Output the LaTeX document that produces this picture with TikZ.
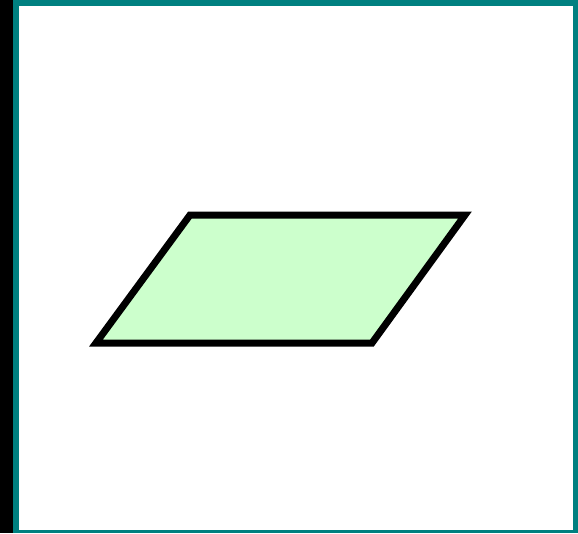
\documentclass[tikz,border=0pt]{standalone}
\usepackage{tikz}

\definecolor{frameteal}{RGB}{0,128,128}
\definecolor{shapegreen}{RGB}{204,255,204}

\begin{document}
\begin{tikzpicture}[x=1pt, y=-1pt, line width=7pt, line join=miter]
  \useasboundingbox (0,0) rectangle (578,533);
  % frame
  \fill[black] (0,0) rectangle (13,533);
  \fill[frameteal] (13,0) rectangle (578,533);
  \fill[white] (19,6) rectangle (573,530);

  % parallelogram
  \filldraw[fill=shapegreen, draw=black]
   (96,343) -- (190,215) -- (465,215) -- (372,343) -- cycle;
\end{tikzpicture}
\end{document}
